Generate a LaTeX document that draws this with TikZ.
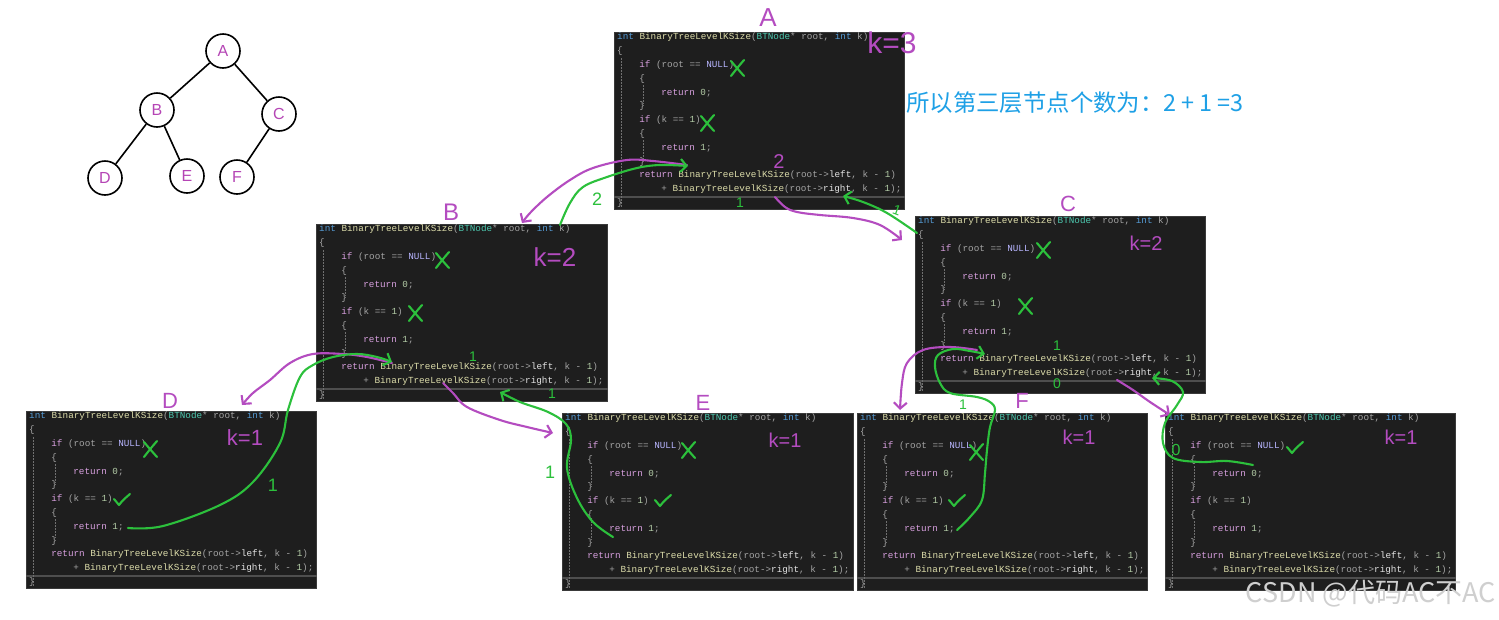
\documentclass[tikz,border=0pt]{standalone}
\usepackage{fontspec}
\setmainfont{Liberation Sans}
\setmonofont{Liberation Mono}
\newfontfamily\cjk{Noto Sans CJK SC}
\usetikzlibrary{arrows.meta}
\definecolor{bg}{HTML}{1E1E1E}
\definecolor{bd}{HTML}{3A3A3A}
\definecolor{sepc}{HTML}{4E4E4E}
\definecolor{guidec}{HTML}{707070}
\definecolor{cblue}{HTML}{569CD6}
\definecolor{cfun}{HTML}{DCDCAA}
\definecolor{ctype}{HTML}{4EC9B0}
\definecolor{cgray}{HTML}{A4A4A4}
\definecolor{cpurp}{HTML}{D8A0DF}
\definecolor{cnull}{HTML}{B8B5FF}
\definecolor{cnum}{HTML}{B5CEA8}
\definecolor{cwhite}{HTML}{E4E4E4}
\definecolor{mag}{HTML}{B44CC0}
\definecolor{grn}{HTML}{2CC03C}
\definecolor{info}{HTML}{1EA0E6}
\definecolor{treel}{HTML}{B545B5}
\definecolor{wmark}{HTML}{CFCFCF}
\newcommand\Cb[1]{\textcolor{cblue}{#1}}
\newcommand\Cf[1]{\textcolor{cfun}{#1}}
\newcommand\Ct[1]{\textcolor{ctype}{#1}}
\newcommand\Cg[1]{\textcolor{cgray}{#1}}
\newcommand\Cp[1]{\textcolor{cpurp}{#1}}
\newcommand\Cn[1]{\textcolor{cnull}{#1}}
\newcommand\Cd[1]{\textcolor{cnum}{#1}}
\newcommand\Cw[1]{\textcolor{cwhite}{#1}}
\newcommand\ind{\hspace*{22.08pt}}
\newcommand\codelines{%
\Cb{int} \Cf{BinaryTreeLevelKSize}\Cg{(}\Ct{BTNode}\Cg{* root,} \Cb{int} \Cg{k)}\\
\Cg{\{}\\
\ind\Cp{if} \Cg{(root == }\Cn{NULL}\Cg{)}\\
\ind\Cg{\{}\\
\ind\ind\Cp{return} \Cd{0}\Cg{;}\\
\ind\Cg{\}}\\
\ind\Cp{if} \Cg{(k == }\Cd{1}\Cg{)}\\
\ind\Cg{\{}\\
\ind\ind\Cp{return} \Cd{1}\Cg{;}\\
\ind\Cg{\}}\\
\ind\Cp{return} \Cf{BinaryTreeLevelKSize}\Cg{(root->}\Cw{left}\Cg{, k - }\Cd{1}\Cg{)}\\
\ind\ind\Cg{+} \Cf{BinaryTreeLevelKSize}\Cg{(root->}\Cw{right}\Cg{, k - }\Cd{1}\Cg{);}\\
\Cg{\}}}
\newcommand\codebox[4]{%
  \node[cbox, minimum width=#4pt] (#1) at (#2,#3) {};
  \draw[sepl] ([yshift=-165pt]#1.north west) -- ([yshift=-165pt]#1.north east);
  \draw[guide] ([shift={(7pt,-26pt)}]#1.north west) -- ([shift={(7pt,-176pt)}]#1.north west);
  \draw[guide] ([shift={(29pt,-53pt)}]#1.north west) -- ([shift={(29pt,-72pt)}]#1.north west);
  \draw[guide] ([shift={(29pt,-108pt)}]#1.north west) -- ([shift={(29pt,-127pt)}]#1.north west);
  \node[ctext] (#1-code) at ([shift={(3pt,-1pt)}]#1.north west) {\codelines};
}
\begin{document}
\begin{tikzpicture}[x=1pt,y=-1pt,
  cbox/.style={draw=bd, fill=bg, line width=1.2pt, minimum height=177pt, inner sep=0pt, anchor=north west},
  ctext/.style={anchor=north west, inner sep=0pt, align=left, font=\ttfamily\fontsize{9.3}{13.8}\selectfont, text=cgray},
  sepl/.style={draw=sepc, line width=1.6pt},
  guide/.style={draw=guidec, line width=0.6pt, dash pattern=on 1.5pt off 1.5pt},
  pen/.style={line width=2.1pt, line cap=round, line join=round},
  mg/.style={pen, draw=mag},
  gr/.style={pen, draw=grn},
  arr/.style={-{Straight Barb[length=6pt,width=13pt]}},
  hand/.style={inner sep=0pt, font=\fontsize{#1}{#1}\selectfont},
  ml/.style={text=mag},
  gl/.style={text=grn},
  tn/.style={circle, draw=black, line width=1.6pt, minimum size=34pt, inner sep=0pt, text=treel, font=\fontsize{16}{16}\selectfont},
  xmk/.pic={\draw[gr] (-6,-7) .. controls (-1,-1) .. (7,8); \draw[gr] (7,-8) .. controls (1,-1) .. (-6,8);},
  ckm/.pic={\draw[gr] (-8,-1) .. controls (-5,2) .. (-3,5) .. controls (1,0) .. (8,-6);}
]
\useasboundingbox[fill=white] (0,0) rectangle (1499,619);

% binary tree
\node[tn] (tA) at (223,51) {A};
\node[tn] (tB) at (157,110) {B};
\node[tn] (tC) at (279,114) {C};
\node[tn] (tD) at (105,178) {D};
\node[tn] (tE) at (187,176) {E};
\node[tn] (tF) at (237,177) {F};
\draw[line width=1.6pt] (tA) -- (tB);
\draw[line width=1.6pt] (tA) -- (tC);
\draw[line width=1.6pt] (tB) -- (tD);
\draw[line width=1.6pt] (tB) -- (tE);
\draw[line width=1.6pt] (tC) -- (tF);

% code boxes
\codebox{bA}{614}{32}{290}
\codebox{bB}{316}{224}{291}
\codebox{bC}{915}{216}{290}
\codebox{bD}{26}{411}{290}
\codebox{bE}{562}{413}{291}
\codebox{bF}{857}{413}{290}
\codebox{bG}{1165}{413}{290}

% explanation text
\node[anchor=west, inner sep=0pt, text=info, font=\cjk\fontsize{23.4}{23.4}\selectfont] (sum) at (906,103) {所以第三层节点个数为：2\hspace{5pt}+\hspace{5pt}1\hspace{5pt}=3};

% purple labels
\node[hand=26, ml] (lA) at (768,18) {A};
\node[hand=30, ml] (kA) at (892,43) {k=3};
\node[hand=24, ml] (lB) at (451,212) {B};
\node[hand=26, ml] (kB) at (555,257) {k=2};
\node[hand=22, ml] (lC) at (1068,204) {C};
\node[hand=20, ml] (kC) at (1146,243) {k=2};
\node[hand=22, ml] (lD) at (170,401) {D};
\node[hand=22, ml] (kD) at (245,438) {k=1};
\node[hand=22, ml] (lE) at (703,403) {E};
\node[hand=20, ml] (kE) at (785,440) {k=1};
\node[hand=22, ml] (lF) at (1022,401) {F};
\node[hand=20, ml] (kF) at (1079,437) {k=1};
\node[hand=20, ml] (kG) at (1401,437) {k=1};
\node[hand=20, ml] (nA2) at (779,162) {2};

% green marks
\pic at (737,68) {xmk};
\pic at (707,123) {xmk};
\pic at (442,260) {xmk};
\pic at (415,313) {xmk};
\pic at (1043,250) {xmk};
\pic at (1025,306) {xmk};
\pic at (150,449) {xmk};
\pic at (122,500) {ckm};
\pic at (688,450) {xmk};
\pic at (663,501) {ckm};
\pic at (976,452) {xmk};
\pic at (957,501) {ckm};
\pic at (1295,448) {ckm};

% green numbers
\node[hand=18, gl] (g2) at (597,199) {2};
\node[hand=14, gl] (g1a) at (740,203) {1};
\node[hand=14, gl, rotate=-20] (g1b) at (897,210) {1};
\node[hand=14, gl] (g1c) at (473,357) {1};
\node[hand=14, gl] (g1d) at (552,394) {1};
\node[hand=18, gl] (g1e) at (273,485) {1};
\node[hand=18, gl] (g1f) at (550,472) {1};
\node[hand=14, gl] (g1g) at (1057,346) {1};
\node[hand=14, gl] (g0a) at (1057,384) {0};
\node[hand=14, gl] (g1h) at (963,405) {1};
\node[hand=16, gl] (g0b) at (1176,450) {0};

% endpoints
\coordinate (pAl) at (687,165);
\coordinate (pBk) at (560,225);
\coordinate (pBh) at (522,223);
\coordinate (gAl) at (688,166);
\coordinate (pAr) at (775,197);
\coordinate (pCh) at (902,240);
\coordinate (gCl) at (917,233);
\coordinate (gAr) at (843,196);
\coordinate (pBl) at (392,363);
\coordinate (pDh) at (242,405);
\coordinate (gD1) at (128,528);
\coordinate (gBl) at (392,362);
\coordinate (pBr) at (443,383);
\coordinate (pEh) at (553,433);
\coordinate (gE1) at (613,537);
\coordinate (gBr) at (500,392);
\coordinate (pCl) at (977,350);
\coordinate (pFh) at (900,410);
\coordinate (gF1) at (957,530);
\coordinate (gCl2) at (985,354);
\coordinate (pCr) at (1117,380);
\coordinate (pGh) at (1170,415);
\coordinate (gG0) at (1253,465);
\coordinate (gCr) at (1152,378);

% connectors: A <-> B
\draw[mg, arr] plot[smooth, tension=0.6] coordinates {(pAl) (653,161) (627,160) (593,168) (570,180) (547,197) (530,213) (pBh)};
\draw[gr, arr] plot[smooth, tension=0.6] coordinates {(pBk) (570,203) (583,187) (607,177) (637,168) (660,165) (gAl)};
% A <-> C
\draw[mg, arr] plot[smooth, tension=0.6] coordinates {(pAr) (785,207) (797,212) (820,215) (853,218) (880,225) (pCh)};
\draw[gr, arr] plot[smooth, tension=0.6] coordinates {(gCl) (887,213) (863,202) (gAr)};
% B <-> D
\draw[mg, arr] plot[smooth, tension=0.6] coordinates {(pBl) (367,357) (343,354) (313,354) (290,363) (270,380) (253,393) (pDh)};
\draw[gr, arr] plot[smooth, tension=0.6] coordinates {(gD1) (163,526) (220,505) (253,482) (280,443) (288,410) (300,377) (313,365) (333,357) (357,354) (377,357) (gBl)};
% B <-> E
\draw[mg, arr] plot[smooth, tension=0.6] coordinates {(pBr) (453,393) (467,407) (500,420) (527,427) (pEh)};
\draw[gr, arr] plot[smooth, tension=0.6] coordinates {(gE1) (593,522) (577,498) (567,468) (571,440) (566,424) (548,412) (520,402) (gBr)};
% C <-> F
\draw[mg, arr] plot[smooth, tension=0.6] coordinates {(pCl) (950,347) (923,350) (907,363) (902,383) (pFh)};
\draw[gr, arr] plot[smooth, tension=0.6] coordinates {(gF1) (970,517) (982,500) (985,473) (987,450) (990,427) (995,410) (990,402) (977,397) (950,393) (940,383) (935,367) (938,355) (953,349) (970,351) (gCl2)};
% C <-> G
\draw[mg, arr] plot[smooth, tension=0.6] coordinates {(pCr) (1133,390) (1150,402) (pGh)};
\draw[gr, arr] plot[smooth, tension=0.6] coordinates {(gG0) (1227,461) (1200,462) (1173,458) (1163,443) (1165,423) (1177,405) (1183,392) (1172,381) (gCr)};

% watermark
\node[anchor=east, inner sep=0pt, text=wmark, font=\cjk\fontsize{27}{27}\selectfont] (wm) at (1496,594) {CSDN @代码AC不AC};
\end{tikzpicture}
\end{document}
